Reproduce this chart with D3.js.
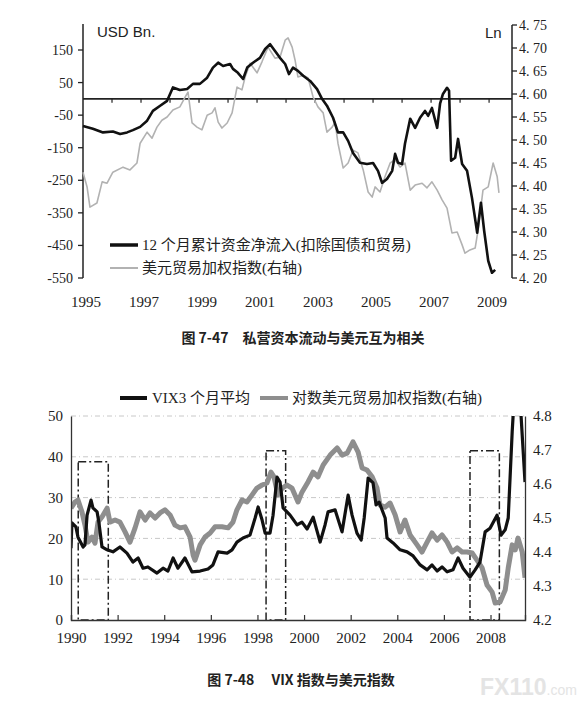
<!DOCTYPE html>
<html>
<head>
<meta charset="utf-8">
<script src="https://cdn.jsdelivr.net/npm/d3@7"></script>
<style>
  body { margin: 0; background: #fff; }
  svg { display: block; }
</style>
</head>
<body>
<div id="chart"></div>
<script>
// ---- top chart data (fig 7-47) ----
const flowYears = [1995.00,1995.34,1995.69,1996.03,1996.28,1996.52,1996.72,1996.97,1997.21,1997.41,1997.66,1997.90,1998.10,1998.34,1998.59,1998.79,1999.03,1999.28,1999.48,1999.66,1999.83,2000.07,2000.17,2000.34,2000.52,2000.66,2000.86,2001.10,2001.28,2001.45,2001.62,2001.79,2001.97,2002.10,2002.24,2002.41,2002.59,2002.83,2003.07,2003.24,2003.41,2003.62,2003.79,2003.97,2004.14,2004.31,2004.55,2004.79,2005.00,2005.17,2005.31,2005.48,2005.66,2005.76,2005.86,2006.00,2006.10,2006.28,2006.45,2006.62,2006.79,2006.90,2007.03,2007.21,2007.31,2007.41,2007.55,2007.62,2007.69,2007.83,2007.93,2008.07,2008.24,2008.41,2008.59,2008.72,2008.83,2008.97,2009.10,2009.21]
const flowValues = [-83,-92,-103,-100,-108,-103,-96,-86,-67,-37,-21,-6,35,27,30,46,46,65,96,111,101,107,92,80,61,96,111,126,153,168,147,126,107,76,96,86,71,55,30,0,-21,-58,-103,-103,-129,-166,-196,-200,-197,-221,-258,-246,-221,-169,-196,-200,-138,-61,-89,-58,-37,-52,-28,-89,-15,15,34,25,-190,-181,-123,-200,-221,-304,-411,-319,-405,-497,-534,-525]

const twiYears = [1995.00,1995.14,1995.24,1995.48,1995.66,1995.83,1996.03,1996.38,1996.62,1996.86,1996.97,1997.21,1997.38,1997.55,1997.72,1997.90,1998.10,1998.34,1998.52,1998.62,1998.76,1998.93,1999.10,1999.28,1999.45,1999.55,1999.66,1999.79,1999.97,2000.14,2000.31,2000.48,2000.59,2000.76,2001.00,2001.17,2001.38,2001.62,2001.79,2001.97,2002.07,2002.21,2002.31,2002.41,2002.59,2002.76,2002.93,2003.10,2003.28,2003.41,2003.59,2003.69,2003.79,2003.97,2004.14,2004.31,2004.48,2004.66,2004.83,2004.97,2005.07,2005.24,2005.41,2005.59,2005.76,2005.93,2006.10,2006.28,2006.45,2006.69,2006.86,2007.03,2007.21,2007.38,2007.55,2007.72,2007.90,2008.07,2008.17,2008.34,2008.52,2008.62,2008.79,2008.97,2009.14,2009.28,2009.34]
const twiValues = [4.430,4.398,4.354,4.363,4.409,4.406,4.430,4.441,4.435,4.450,4.493,4.517,4.504,4.528,4.543,4.550,4.565,4.572,4.593,4.604,4.537,4.528,4.522,4.554,4.559,4.570,4.539,4.526,4.537,4.559,4.615,4.609,4.637,4.667,4.646,4.670,4.702,4.678,4.680,4.717,4.722,4.702,4.674,4.637,4.641,4.635,4.594,4.572,4.559,4.517,4.528,4.539,4.493,4.439,4.450,4.478,4.472,4.435,4.387,4.376,4.398,4.387,4.420,4.450,4.457,4.441,4.450,4.391,4.402,4.406,4.396,4.409,4.391,4.370,4.352,4.298,4.300,4.272,4.254,4.261,4.265,4.304,4.391,4.398,4.450,4.420,4.385]

const topLeftTicks = [150, 50, -50, -150, -250, -350, -450, -550]
const topRightTicks = [4.75, 4.70, 4.65, 4.60, 4.55, 4.50, 4.45, 4.40, 4.35, 4.30, 4.25, 4.20]
const topYearLabels = [1995, 1997, 1999, 2001, 2003, 2005, 2007, 2009]
const topYearTicks = d3.range(1996, 2010)

// ---- bottom chart data (fig 7-48) ----
const vixYears = [1990.00,1990.04,1990.21,1990.30,1990.52,1990.60,1990.69,1990.86,1990.94,1991.12,1991.20,1991.33,1991.55,1991.80,1992.10,1992.40,1992.66,1992.88,1993.09,1993.30,1993.69,1993.95,1994.16,1994.38,1994.59,1994.89,1995.19,1995.54,1995.88,1996.09,1996.31,1996.70,1996.91,1997.12,1997.38,1997.68,1997.90,1998.03,1998.20,1998.33,1998.54,1998.67,1998.84,1998.97,1999.10,1999.40,1999.70,1999.91,2000.13,2000.39,2000.69,2000.90,2001.03,2001.33,2001.63,2001.89,2002.06,2002.27,2002.45,2002.58,2002.75,2002.96,2003.09,2003.22,2003.48,2003.56,2003.82,2004.12,2004.42,2004.68,2004.98,2005.28,2005.49,2005.71,2005.92,2006.14,2006.39,2006.61,2006.82,2007.12,2007.34,2007.55,2007.77,2007.98,2008.28,2008.45,2008.63,2008.76,2008.93,2009.01,2009.27,2009.36,2009.48]
const vixValues = [17.6,23.8,22.8,20.3,17.9,18.4,25.7,29.4,27.5,26.5,23.8,17.9,17.2,16.7,17.9,16.4,14.2,15.2,12.7,13.0,11.5,12.7,12.0,15.2,12.7,15.2,11.8,12.0,12.5,13.5,16.7,16.4,17.2,19.1,20.1,20.8,25.0,27.7,24.5,21.3,21.3,25.7,35.0,33.8,27.5,25.7,23.3,24.0,22.3,25.2,19.1,23.3,26.5,27.0,21.6,30.6,25.7,21.3,19.6,25.0,34.8,33.6,28.2,28.9,25.0,20.1,18.9,17.2,16.7,15.7,13.5,12.3,13.5,12.0,13.0,11.8,12.3,15.2,12.7,10.5,12.3,14.2,21.6,22.5,25.7,20.8,22.1,25.0,46.1,54,54,45.3,33.8]

const logUsdYears = [1990.00,1990.17,1990.30,1990.47,1990.60,1990.73,1990.90,1991.03,1991.16,1991.33,1991.55,1991.67,1991.89,1992.10,1992.32,1992.53,1992.75,1992.96,1993.18,1993.39,1993.61,1993.82,1994.03,1994.25,1994.46,1994.68,1994.89,1995.11,1995.24,1995.32,1995.54,1995.75,1995.97,1996.18,1996.48,1996.74,1996.95,1997.12,1997.34,1997.55,1997.77,1997.98,1998.20,1998.41,1998.58,1998.71,1998.88,1999.06,1999.27,1999.48,1999.74,1999.91,2000.17,2000.39,2000.60,2000.82,2001.12,2001.42,2001.63,2001.85,2002.10,2002.32,2002.49,2002.70,2002.92,2003.13,2003.26,2003.48,2003.69,2003.91,2004.12,2004.33,2004.55,2004.85,2005.06,2005.28,2005.49,2005.71,2005.92,2006.14,2006.35,2006.57,2006.78,2007.00,2007.21,2007.42,2007.64,2007.85,2008.07,2008.20,2008.41,2008.63,2008.76,2008.93,2009.06,2009.18,2009.36,2009.48]
const logUsdValues = [4.529,4.547,4.553,4.518,4.479,4.429,4.444,4.426,4.488,4.503,4.529,4.488,4.494,4.488,4.459,4.429,4.471,4.518,4.494,4.515,4.500,4.515,4.524,4.509,4.479,4.471,4.474,4.444,4.391,4.376,4.421,4.444,4.456,4.474,4.474,4.471,4.488,4.524,4.553,4.547,4.568,4.588,4.597,4.603,4.635,4.621,4.568,4.588,4.597,4.588,4.547,4.576,4.606,4.635,4.621,4.656,4.685,4.706,4.685,4.691,4.724,4.694,4.647,4.641,4.621,4.588,4.538,4.532,4.544,4.509,4.459,4.494,4.450,4.421,4.400,4.429,4.456,4.435,4.450,4.429,4.400,4.412,4.400,4.400,4.397,4.376,4.353,4.303,4.282,4.250,4.253,4.288,4.353,4.421,4.406,4.441,4.400,4.324]

const boxStarts = [1990.31, 1998.37, 2007.12]
const boxEnds = [1991.60, 1999.21, 2008.38]
const boxTops = [38.8, 41.5, 41.5]

const botLeftTicks = [0, 10, 20, 30, 40, 50]
const botRightTicks = [4.2, 4.3, 4.4, 4.5, 4.6, 4.7, 4.8]
const botYearTicks = d3.range(1990, 2009, 2)

const serif = "'Liberation Serif', 'Noto Sans CJK SC', serif"
const cjk = "'Liberation Serif', 'Noto Sans CJK SC', sans-serif"

const svg = d3.select("#chart").append("svg")
    .attr("width", 580)
    .attr("height", 707)

// =========== top chart ===========
const topChart = svg.append("g")

const xTop = d3.scaleLinear().domain([1995, 2009.79]).range([83, 512])
const yFlow = d3.scaleLinear().domain([-550, 150]).range([278, 50])
const yTwi = d3.scaleLinear().domain([4.2, 4.75]).range([278, 25])

// left axis
topChart.append("line")
    .attr("x1", 83).attr("x2", 83)
    .attr("y1", yFlow(-550)).attr("y2", yFlow(230))
    .attr("stroke", "#222").attr("stroke-width", 1.5)
topChart.selectAll(".ltick").data(topLeftTicks).join("line")
    .attr("x1", 78).attr("x2", 83)
    .attr("y1", d => yFlow(d)).attr("y2", d => yFlow(d))
    .attr("stroke", "#222").attr("stroke-width", 1.3)
topChart.selectAll(".llab").data(topLeftTicks).join("text")
    .attr("x", 73).attr("y", d => yFlow(d) + 5)
    .attr("text-anchor", "end")
    .style("font-family", serif).style("font-size", "14px").attr("fill", "#222")
    .text(d => d < 0 ? "-" + Math.abs(d) : d)

// right axis
topChart.append("line")
    .attr("x1", 512).attr("x2", 512)
    .attr("y1", yTwi(4.2)).attr("y2", yTwi(4.75))
    .attr("stroke", "#222").attr("stroke-width", 1.5)
topChart.selectAll(".rtick").data(topRightTicks).join("line")
    .attr("x1", 512).attr("x2", 517)
    .attr("y1", d => yTwi(d)).attr("y2", d => yTwi(d))
    .attr("stroke", "#222").attr("stroke-width", 1.3)
topChart.selectAll(".rlab").data(topRightTicks).join("text")
    .attr("x", 519).attr("y", d => yTwi(d) + 5)
    .style("font-family", serif).style("font-size", "14px").attr("fill", "#222")
    .text(d => d.toFixed(2).replace(".", ". "))

// zero line with year ticks
topChart.append("line")
    .attr("x1", 83).attr("x2", 512)
    .attr("y1", yFlow(0)).attr("y2", yFlow(0))
    .attr("stroke", "#222").attr("stroke-width", 1.6)
topChart.selectAll(".ytick").data(topYearTicks).join("line")
    .attr("x1", d => xTop(d)).attr("x2", d => xTop(d))
    .attr("y1", yFlow(0)).attr("y2", yFlow(0) + 4)
    .attr("stroke", "#222").attr("stroke-width", 1.2)

topChart.selectAll(".xlab").data(topYearLabels).join("text")
    .attr("x", d => xTop(d) + 3).attr("y", 307)
    .attr("text-anchor", "middle")
    .style("font-family", serif).style("font-size", "15px").attr("fill", "#222")
    .text(d => d)

topChart.append("text").attr("x", 97).attr("y", 37)
    .style("font-family", "'Liberation Sans', Arial, sans-serif").style("font-size", "15px")
    .attr("fill", "#222").text("USD Bn.")
topChart.append("text").attr("x", 485).attr("y", 38)
    .style("font-family", "'Liberation Sans', Arial, sans-serif").style("font-size", "15px")
    .attr("fill", "#222").text("Ln")

// series
const twiLine = d3.line()
    .x((d, i) => xTop(twiYears[i]))
    .y(d => yTwi(d))
topChart.append("path").datum(twiValues)
    .attr("d", twiLine)
    .attr("fill", "none").attr("stroke", "#b2b2b2").attr("stroke-width", 1.6)
    .attr("stroke-linejoin", "round")

const flowLine = d3.line()
    .x((d, i) => xTop(flowYears[i]))
    .y(d => yFlow(d))
topChart.append("path").datum(flowValues)
    .attr("d", flowLine)
    .attr("fill", "none").attr("stroke", "#111").attr("stroke-width", 2.6)
    .attr("stroke-linejoin", "round")

// legend
topChart.append("line").attr("x1", 110).attr("x2", 138).attr("y1", 245).attr("y2", 245)
    .attr("stroke", "#111").attr("stroke-width", 3.5)
topChart.append("text").attr("x", 142).attr("y", 250)
    .style("font-family", cjk).style("font-size", "15px").attr("fill", "#222")
    .text("12 个月累计资金净流入(扣除国债和贸易)")
topChart.append("line").attr("x1", 110).attr("x2", 138).attr("y1", 268).attr("y2", 268)
    .attr("stroke", "#b2b2b2").attr("stroke-width", 2)
topChart.append("text").attr("x", 142).attr("y", 273)
    .style("font-family", cjk).style("font-size", "15px").attr("fill", "#222")
    .text("美元贸易加权指数(右轴)")

svg.append("text").attr("x", 303).attr("y", 343)
    .attr("text-anchor", "middle")
    .style("font-family", "'Noto Sans CJK SC', sans-serif").style("font-size", "14px")
    .style("font-weight", "bold").attr("fill", "#222")
    .text("图 7-47　私营资本流动与美元互为相关")

// =========== bottom chart ===========
const botChart = svg.append("g")

const xBot = d3.scaleLinear().domain([1990, 2009.48]).range([71, 525])
const yVix = d3.scaleLinear().domain([0, 50]).range([620, 416])
const yUsd = d3.scaleLinear().domain([4.2, 4.8]).range([620, 416])

botChart.append("clipPath").attr("id", "plot-clip")
    .append("rect").attr("x", 71).attr("y", 416).attr("width", 454).attr("height", 204)

// grid
botChart.selectAll(".grid").data(botLeftTicks.slice(1)).join("line")
    .attr("x1", 71).attr("x2", 525)
    .attr("y1", d => yVix(d)).attr("y2", d => yVix(d))
    .attr("stroke", "#c8c8c8").attr("stroke-width", 1)
    .attr("stroke-dasharray", "5,3,1,3")

// dash-dot boxes
botChart.selectAll(".box").data(boxStarts).join("rect")
    .attr("x", d => xBot(d))
    .attr("y", (d, i) => yVix(boxTops[i]))
    .attr("width", (d, i) => xBot(boxEnds[i]) - xBot(d))
    .attr("height", (d, i) => yVix(0) - yVix(boxTops[i]))
    .attr("fill", "none").attr("stroke", "#222").attr("stroke-width", 1.5)
    .attr("stroke-dasharray", "8,3,2,3")

// series
const usdLine = d3.line()
    .x((d, i) => xBot(logUsdYears[i]))
    .y(d => yUsd(d))
botChart.append("path").datum(logUsdValues)
    .attr("d", usdLine)
    .attr("clip-path", "url(#plot-clip)")
    .attr("fill", "none").attr("stroke", "#8e8e8e").attr("stroke-width", 5)
    .attr("stroke-linejoin", "round")

const vixLine = d3.line()
    .x((d, i) => xBot(vixYears[i]))
    .y(d => yVix(d))
botChart.append("path").datum(vixValues)
    .attr("d", vixLine)
    .attr("clip-path", "url(#plot-clip)")
    .attr("fill", "none").attr("stroke", "#111").attr("stroke-width", 3.2)
    .attr("stroke-linejoin", "round")

// axes
const axisLeft = d3.axisLeft(yVix).tickValues(botLeftTicks).tickSize(0).tickPadding(8)
const gl = botChart.append("g").attr("transform", "translate(71,0)").call(axisLeft)
const axisRight = d3.axisRight(yUsd).tickValues(botRightTicks).tickSize(0).tickPadding(8)
    .tickFormat(d3.format(".1f"))
const gr = botChart.append("g").attr("transform", "translate(525,0)").call(axisRight)
const axisBottom = d3.axisBottom(xBot).tickValues(botYearTicks).tickSize(-5).tickPadding(12)
    .tickFormat(d => d)
const gb = botChart.append("g").attr("transform", "translate(0,620)").call(axisBottom)

;[gl, gr, gb].forEach(g => {
    g.select(".domain").attr("stroke", "#333").attr("stroke-width", 1.3)
    g.selectAll(".tick line").attr("stroke", "#333").attr("stroke-width", 1.2)
    g.selectAll("text").style("font-family", serif).style("font-size", "15px").attr("fill", "#222")
})

// legend
botChart.append("line").attr("x1", 120).attr("x2", 147).attr("y1", 398).attr("y2", 398)
    .attr("stroke", "#111").attr("stroke-width", 4)
botChart.append("text").attr("x", 152).attr("y", 403)
    .style("font-family", cjk).style("font-size", "15px").attr("fill", "#222")
    .text("VIX3 个月平均")
botChart.append("line").attr("x1", 260).attr("x2", 288).attr("y1", 398).attr("y2", 398)
    .attr("stroke", "#8e8e8e").attr("stroke-width", 4)
botChart.append("text").attr("x", 292).attr("y", 403)
    .style("font-family", cjk).style("font-size", "15px").attr("fill", "#222")
    .text("对数美元贸易加权指数(右轴)")

svg.append("text").attr("x", 301).attr("y", 685)
    .attr("text-anchor", "middle")
    .style("font-family", "'Noto Sans CJK SC', sans-serif").style("font-size", "14px")
    .style("font-weight", "bold").attr("fill", "#222")
    .text("图 7-48　 VIX 指数与美元指数")

// watermark
const wm = svg.append("text").attr("x", 480).attr("y", 695)
    .style("font-family", "'Liberation Sans', Arial, sans-serif").attr("fill", "#e4e4e4")
wm.append("tspan").style("font-size", "23px").style("font-weight", "bold").text("FX110")
wm.append("tspan").style("font-size", "14px").text(".com")
</script>
</body>
</html>
